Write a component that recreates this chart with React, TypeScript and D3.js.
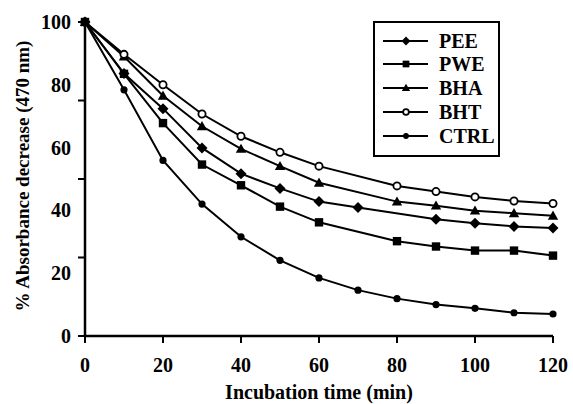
import React from "react";
import * as d3 from "d3";

const times = [0, 10, 20, 30, 40, 50, 60, 70, 80, 90, 100, 110, 120];
const PEE = [100, 83.6, 72.4, 59.9, 51.7, 47, 42.8, 40.9, null, 37.2, 35.9, 34.9, 34.4];
const PWE = [100, 83.5, 67.8, 54.6, 48, 41.2, 36.2, null, 30.2, 28.5, 27.2, 27.2, 25.6];
const BHA = [100, 89, 76.5, 66.8, 59.6, 54.1, 48.8, null, 42.8, 41.5, 39.9, 39.1, 38.3];
const BHT = [100, 89.7, 80, 70.7, 63.6, 58.5, 54.1, null, 47.8, 46, 44.3, 43, 42.2];
const CTRL = [100, 78.4, 55.9, 42, 31.6, 24.1, 18.5, 14.6, 11.9, 10, 8.8, 7.4, 7.0];

const seriesNames = ["PEE", "PWE", "BHA", "BHT", "CTRL"];
const seriesValues = [PEE, PWE, BHA, BHT, CTRL];
const xTicks = [0, 20, 40, 60, 80, 100, 120];
const yLabels = [0, 20, 40, 60, 80, 100];
const yTickMarks = [0, 25, 50, 75, 100];

const FONT = "'Liberation Serif', 'Times New Roman', serif";

function Marker({ name, x, y, scale = 1 }: { name: string; x: number; y: number; scale?: number }) {
  const s = scale;
  if (name === "PEE") {
    const r = 5.5 * s;
    return <path d={`M${x},${y - r}L${x + r},${y}L${x},${y + r}L${x - r},${y}Z`} fill="#000" />;
  }
  if (name === "PWE") {
    const r = 4.2 * s;
    return <rect x={x - r} y={y - r} width={2 * r} height={2 * r} fill="#000" />;
  }
  if (name === "BHA") {
    const r = 5.2 * s;
    return <path d={`M${x},${y - r}L${x + r},${y + r * 0.75}L${x - r},${y + r * 0.75}Z`} fill="#000" />;
  }
  if (name === "BHT") {
    return <circle cx={x} cy={y} r={3.6 * s} fill="#fff" stroke="#000" strokeWidth={1.8} />;
  }
  return <circle cx={x} cy={y} r={3.6 * s} fill="#000" />;
}

export default function App() {
  const x = d3.scaleLinear().domain([0, 120]).range([85, 553]);
  const y = d3.scaleLinear().domain([0, 100]).range([336, 22]);
  const line = d3
    .line<[number, number]>()
    .x((d) => x(d[0]))
    .y((d) => y(d[1]));

  const legendX = 374;
  const legendY = 22;
  const rowY = [41, 64, 88, 112, 136];

  return (
    <svg
      width={573}
      height={404}
      style={{ position: "absolute", left: 0, top: 0, background: "#fff" }}
      fontFamily={FONT}
    >
      <rect x={0} y={0} width={573} height={404} fill="#fff" />
      {/* axes */}
      <line x1={x(0)} y1={y(0)} x2={x(120)} y2={y(0)} stroke="#000" strokeWidth={2.5} />
      <line x1={x(0)} y1={y(0) + 1} x2={x(0)} y2={y(100)} stroke="#000" strokeWidth={2.5} />
      {xTicks.map((t) => (
        <g key={"xt" + t}>
          <line x1={x(t)} y1={y(0)} x2={x(t)} y2={y(0) + 7} stroke="#000" strokeWidth={2} />
          <text x={x(t)} y={372} textAnchor="middle" fontSize={20} fontWeight="bold">
            {t}
          </text>
        </g>
      ))}
      {yTickMarks.map((t) => (
        <line key={"yt" + t} x1={x(0) - 7} y1={y(t)} x2={x(0)} y2={y(t)} stroke="#000" strokeWidth={2} />
      ))}
      {yLabels.map((t) => (
        <text key={"yl" + t} x={71} y={y(t) + 7} textAnchor="end" fontSize={20} fontWeight="bold">
          {t}
        </text>
      ))}
      <text x={319} y={399} textAnchor="middle" fontSize={20} fontWeight="bold">
        Incubation time (min)
      </text>
      <text
        transform={`translate(29,176) rotate(-90)`}
        textAnchor="middle"
        fontSize={19}
        fontWeight="bold"
      >
        % Absorbance decrease (470 nm)
      </text>

      {/* series */}
      {seriesNames.map((name, i) => {
        const pts = times
          .map((t, j) => [t, seriesValues[i][j]] as [number, number | null])
          .filter((d) => d[1] !== null) as [number, number][];
        return (
          <g key={name}>
            <path d={line(pts) || ""} fill="none" stroke="#000" strokeWidth={2} />
            {pts.map((d, j) => (
              <Marker key={j} name={name} x={x(d[0])} y={y(d[1])} />
            ))}
          </g>
        );
      })}

      {/* legend */}
      <rect x={legendX} y={legendY} width={125} height={134} fill="#fff" stroke="#000" strokeWidth={2} />
      {seriesNames.map((name, i) => (
        <g key={"lg" + name}>
          <line x1={383} y1={rowY[i]} x2={428} y2={rowY[i]} stroke="#000" strokeWidth={2} />
          <Marker name={name} x={406} y={rowY[i]} scale={0.8} />
          <text x={439} y={rowY[i] + 7} fontSize={20} fontWeight="bold">
            {name}
          </text>
        </g>
      ))}
    </svg>
  );
}
